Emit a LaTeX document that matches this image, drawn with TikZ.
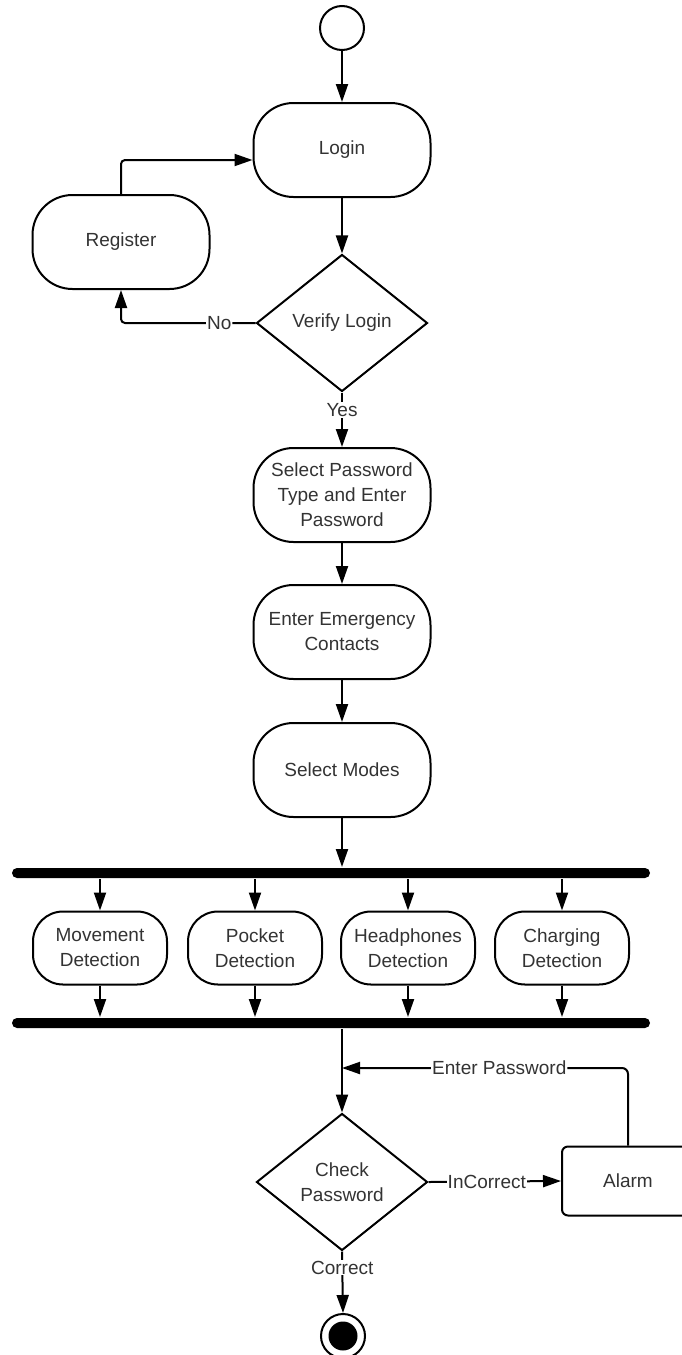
\documentclass[tikz,border=0pt]{standalone}
\usepackage{fontspec}
\setmainfont{Liberation Sans}
\usetikzlibrary{shapes.geometric,arrows.meta}

\begin{document}
\begin{tikzpicture}[x=1pt,y=-1pt,line width=2pt,
        every node/.style={font=\fontsize{19}{25}\selectfont, text=black!80},
        act/.style={draw, rounded corners=40pt, minimum width=177pt, minimum height=94pt, align=center, inner sep=0pt},
        mode/.style={draw, rounded corners=30pt, minimum width=134pt, minimum height=73pt, align=center, inner sep=0pt},
        decide/.style={draw, diamond, aspect=1.25, minimum width=171pt, minimum height=137pt, align=center, inner sep=0pt},
        bar/.style={fill=black, rounded corners=5pt, minimum width=638pt, minimum height=10pt, inner sep=0pt},
        lbl/.style={fill=white, inner sep=1pt},
        arr/.style={-{Triangle[length=18pt,width=12pt]}}]
    \useasboundingbox (0,0) rectangle (681,1355);

    % activities
    \node [draw, circle, minimum size=44pt, inner sep=0pt] (start) at (342,28) {};
    \node [act]    (login)    at (342,150) {Login};
    \node [act]    (register) at (121,242) {Register};
    \node [decide] (verify)   at (342,323) {Verify Login};
    \node [act]    (pwd)      at (342,495) {Select Password\\Type and Enter\\Password};
    \node [act]    (contacts) at (342,632) {Enter Emergency\\Contacts};
    \node [act]    (modes)    at (342,770) {Select Modes};

    % fork and join
    \node [bar] (fork) at (331,873) {};
    \node [mode] (movement)   at (100,948) {Movement\\Detection};
    \node [mode] (pocket)     at (255,948) {Pocket\\Detection};
    \node [mode] (headphones) at (408,948) {Headphones\\Detection};
    \node [mode] (charging)   at (562,948) {Charging\\Detection};
    \node [bar] (join) at (331,1023) {};

    \node [decide] (check) at (342,1182) {Check\\Password};
    \node [draw, rounded corners=6pt, minimum width=132pt, minimum height=69pt] (alarm) at (628,1181) {Alarm};
    \node [draw, circle, minimum size=44pt, inner sep=0pt] (stop) at (343,1336) {};
    \node [circle, fill=black, minimum size=29pt, inner sep=0pt] (stopdot) at (stop) {};
    \coordinate (merge) at (342,1068);

    % flow
    \draw [arr] (start) -- (login);
    \draw [arr] (login) -- (verify);
    \draw [arr, rounded corners=4pt] (verify.west) -- node [lbl, pos=0.27] {No} (verify.west -| register) -- (register.south);
    \draw [arr, rounded corners=4pt] (register.north) |- ([yshift=-10pt]login.west);
    \draw [arr] (verify.south) -- node [lbl, pos=0.32] {Yes} (pwd.north);
    \draw [arr] (pwd) -- (contacts);
    \draw [arr] (contacts) -- (modes);
    \draw [arr] (modes.south) -- (modes.south |- fork.north);
    \foreach \m in {movement,pocket,headphones,charging}{%
        \draw [arr] (\m.north |- fork.south) -- (\m.north);
        \draw [arr] (\m.south) -- (\m.south |- join.north);
    }
    \draw [arr] (join.south -| check) -- (check.north);
    \draw [arr] (check.east) -- node [lbl, pos=0.44] {InCorrect} (alarm.west);
    \draw [arr, rounded corners=6pt] (alarm.north) |- node [lbl, pos=0.725] {Enter Password} (merge);
    \draw [arr] (check.south) -- node [lbl, pos=0.26] {Correct} (stop.north);
\end{tikzpicture}
\end{document}
